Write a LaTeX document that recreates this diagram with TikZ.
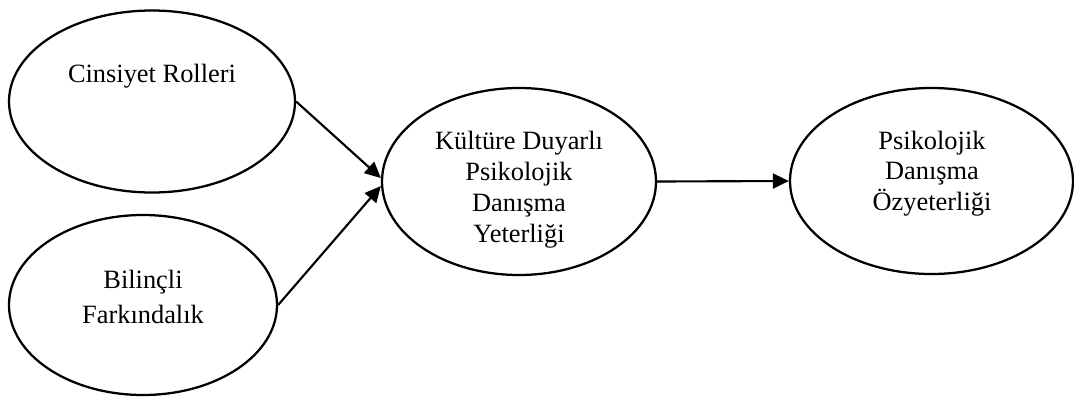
\documentclass[tikz,border=0pt]{standalone}
\usepackage{fontspec}
\setmainfont{Liberation Serif}
\usetikzlibrary{arrows.meta,shapes.geometric}
\begin{document}
\begin{tikzpicture}[x=0.75pt,y=-0.75pt,
  oval/.style={draw=black, line width=1.7pt, ellipse, inner sep=0pt},
  lbl/.style={align=center, inner sep=0pt, anchor=center},
  conn/.style={line width=1.6pt, -{Triangle[length=12pt,width=11.25pt]}}]
\useasboundingbox (0,0) rectangle (1074,397);
\node[oval, minimum width=286*0.75pt, minimum height=182*0.75pt] (e1) at (152,101.5) {};
\node[oval, minimum width=268*0.75pt, minimum height=180*0.75pt] (e2) at (143,305) {};
\node[oval, minimum width=274*0.75pt, minimum height=187*0.75pt] (e3) at (519,181.5) {};
\node[oval, minimum width=283*0.75pt, minimum height=186*0.75pt] (e4) at (931.5,181) {};
\node[lbl, font=\fontsize{19.8pt}{23.25pt}\selectfont] (t1) at (152,76) {Cinsiyet Rolleri};
\node[lbl, font=\fontsize{19.8pt}{26.25pt}\selectfont] (t2) at (143,296.5) {Bilinçli\\Farkındalık};
\node[lbl, font=\fontsize{19.8pt}{23.25pt}\selectfont] (t3) at (519,189.4) {Kültüre Duyarlı\\Psikolojik\\Danışma\\Yeterliği};
\node[lbl, font=\fontsize{19.8pt}{22.9pt}\selectfont] (t4) at (932,173.4) {Psikolojik\\Danışma\\Özyeterliği};
\draw[conn] (e1.east) -- ([yshift=2.6pt]e3.west);
\draw[conn] (e2.east) -- ([yshift=-3.4pt]e3.west);
\draw[conn] (e3.east) -- (e4.west);
\end{tikzpicture}
\end{document}
